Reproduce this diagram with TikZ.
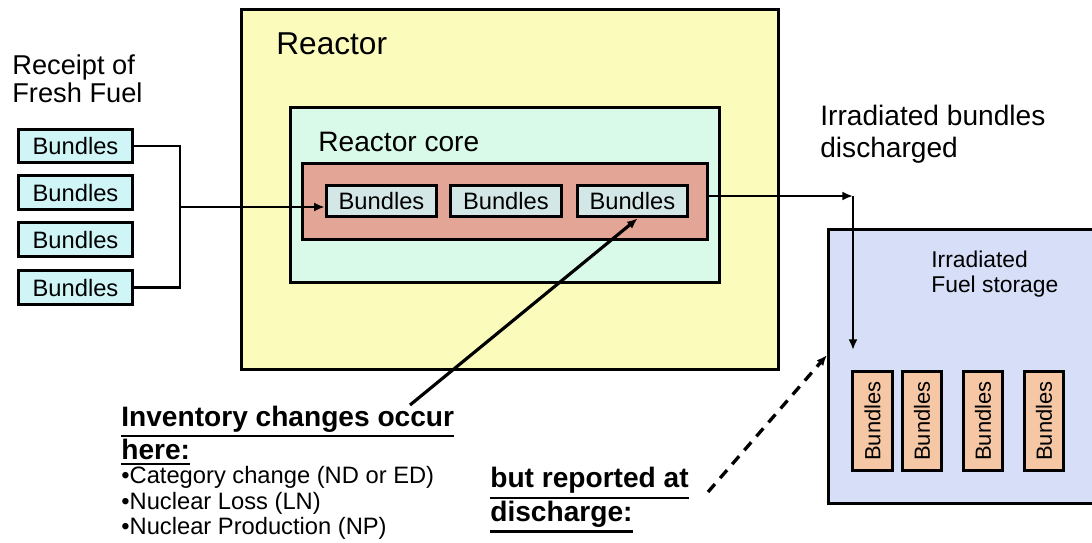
\documentclass[tikz,border=0pt]{standalone}
\usepackage{fontspec}
\setmainfont{Liberation Sans}
\usepackage{tikz}
\usetikzlibrary{shapes,arrows,arrows.meta}
\usetikzlibrary{positioning}
\definecolor{reactorfill}{HTML}{FBFBBB}
\definecolor{corefill}{HTML}{D9FAE9}
\definecolor{pinkfill}{HTML}{E3A595}
\definecolor{freshfill}{HTML}{CFF5F7}
\definecolor{inbundlefill}{HTML}{D3E7E6}
\definecolor{storefill}{HTML}{D6DEF8}
\definecolor{spentfill}{HTML}{F5C7A5}
\newcommand{\thickul}[1]{\vtop{\hbox{#1}\kern1.8pt\hrule height 1.3pt}}
\tikzstyle{region} = [rectangle, draw, line width=1.8pt, inner sep=0pt]
\tikzstyle{bundle} = [rectangle, draw, line width=1.7pt, inner sep=0pt,
    font=\fontsize{13.5}{16}\selectfont]
\tikzstyle{fresh} = [bundle, fill=freshfill, minimum width=65pt, minimum height=19.3pt]
\tikzstyle{inbundle} = [bundle, fill=inbundlefill, minimum width=62.9pt, minimum height=18.1pt]
\tikzstyle{spent} = [bundle, fill=spentfill, rotate=90, minimum width=56.7pt,
    minimum height=22.4pt, font=\fontsize{12.5}{15}\selectfont]
\tikzstyle{caption} = [inner sep=0pt, align=left, anchor=west]
\tikzstyle{line} = [draw, line width=1.6pt, -{Latex[length=6pt,width=5pt]}]

\begin{document}
\begin{tikzpicture}[x=0.02cm,y=-0.02cm]
    \clip (0,0) rectangle (1092,542);
    % Place nodes
    \node[region, fill=reactorfill, minimum width=306.1pt, minimum height=204.7pt] (reactor) at (510,189.5) {};
    \node[caption, font=\fontsize{18}{20}\selectfont] (reactorlbl) at (276,44) {Reactor};
    \node[region, fill=corefill, minimum width=243.8pt, minimum height=99.8pt] (core) at (505,195) {};
    \node[caption, font=\fontsize{16}{18}\selectfont] (corelbl) at (318,142) {Reactor core};
    \node[region, fill=pinkfill, minimum width=230.2pt, minimum height=43.7pt] (pink) at (505,201.5) {};
    \node[inbundle] (c1) at (381.5,201) {Bundles};
    \node[inbundle, right=6.2pt of c1] (c2) {Bundles};
    \node[inbundle, right=7.4pt of c2] (c3) {Bundles};
    \node[caption, font=\fontsize{15.5}{16}\selectfont] (receipt) at (12,79) {Receipt of\\Fresh Fuel};
    \node[fresh] (f1) at (75.5,146) {Bundles};
    \node[fresh, below=5.7pt of f1] (f2) {Bundles};
    \node[fresh, below=5.7pt of f2] (f3) {Bundles};
    \node[fresh, below=6.2pt of f3] (f4) {Bundles};
    \node[caption, font=\fontsize{16}{18}\selectfont] (irrlbl) at (820,134) {Irradiated bundles\\discharged};
    \node[region, fill=storefill, minimum width=154.2pt, minimum height=155.9pt] (store) at (964,366.5) {};
    \node[caption, font=\fontsize{13}{14.7}\selectfont] (storelbl) at (931,274) {Irradiated\\Fuel storage};
    \node[spent] (s1) at (872.5,421) {Bundles};
    \node[spent] (s2) at (922,421) {Bundles};
    \node[spent] (s3) at (983,421) {Bundles};
    \node[spent] (s4) at (1044,421) {Bundles};
    \node[caption, font=\bfseries\fontsize{16}{17.6}\selectfont] (inv) at (121,435.5)
        {\thickul{Inventory changes occur}\\\thickul{here:}};
    \node[caption, font=\fontsize{13.5}{14.5}\selectfont] (changes) at (121,503)
        {•Category change (ND or ED)\\•Nuclear Loss (LN)\\•Nuclear Production (NP)};
    \node[caption, font=\bfseries\fontsize{16}{19}\selectfont] (report) at (490,500)
        {\thickul{but reported at}\\\thickul{discharge:}};
    \coordinate (join) at (180,207);
    \coordinate (turn) at (853,196);
    \coordinate (drop) at (853,350);
    \coordinate (invfoot) at (410,405);
    \coordinate (dashfoot) at (708,492);
    % Draw edges
    \draw[line width=1.6pt] (f1.east) -| (join) |- (f4.east);
    \path [line] (join) -- (c1.west |- join);
    \path [line] (pink.east |- turn) -- (turn);
    \path [line] (turn) -- (drop);
    \path [line, line width=1.8pt] (invfoot) -- ([xshift=3pt]c3.south);
    \path [line, line width=1.9pt, dash pattern=on 6pt off 4.5pt] (dashfoot) -- ([yshift=6.5pt]store.west);
\end{tikzpicture}
\end{document}
